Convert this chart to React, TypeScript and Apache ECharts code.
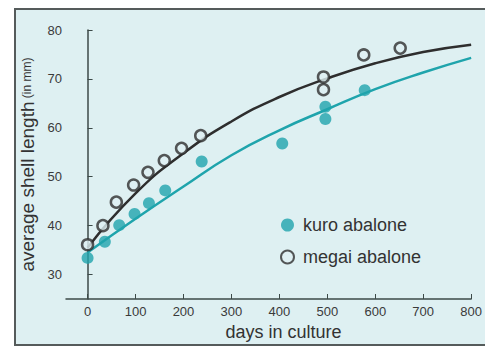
import React, { useEffect, useRef } from "react";
import * as echarts from "echarts";

const kuroDays = [0, 36, 66, 98, 128, 162, 238, 406, 496, 496, 578];
const kuroLength = [33.4, 36.7, 40.1, 42.4, 44.6, 47.2, 53.1, 56.8, 64.3, 61.8, 67.7];
const megaiDays = [0, 32, 60, 96, 126, 160, 196, 236, 492, 492, 576, 652];
const megaiLength = [36.1, 40.0, 44.8, 48.3, 50.9, 53.3, 55.8, 58.4, 70.4, 67.8, 74.9, 76.3];

const curveDays = [0, 100, 200, 300, 400, 500, 600, 700, 800];
const megaiCurve = [35.5, 46.6, 54.8, 61.3, 66.3, 70.1, 73.2, 75.5, 77.0];
const kuroCurve = [34.5, 41.4, 48.0, 54.4, 59.5, 63.8, 67.9, 71.3, 74.3];

const xTicks = [0, 100, 200, 300, 400, 500, 600, 700, 800];
const yTicks = [30, 40, 50, 60, 70, 80];

const FONT = "'Liberation Sans', Arial, sans-serif";
const TEAL = "#1fa4ac";
const DARK = "#2e2e2e";
const AXIS = "#3c4a48";
const BG = "#def0f2";

export default function App() {
  const ref = useRef<HTMLDivElement>(null);
  useEffect(() => {
    document.body.style.margin = "0";
    const chart = echarts.init(ref.current!, null, { renderer: "svg" });
    const zip = (xs: number[], ys: number[]) => xs.map((x, i) => [x, ys[i]]);
    chart.setOption({
      animation: false,
      backgroundColor: "#ffffff",
      textStyle: { fontFamily: FONT },
      graphic: [
        {
          type: "rect",
          left: 14,
          top: 8,
          z: -10,
          shape: { width: 480, height: 336 },
          style: { fill: BG, stroke: "#555b5b", lineWidth: 2 },
        },
      ],
      grid: { left: 66, right: 3, top: 30, bottom: 48, containLabel: false },
      legend: {
        data: [
          { name: "kuro abalone", icon: "circle" },
          { name: "megai abalone", icon: "circle" },
        ],
        orient: "vertical",
        left: 280,
        top: 216,
        padding: 0,
        itemWidth: 13,
        itemHeight: 13,
        itemGap: 14,
        textStyle: { fontFamily: FONT, fontSize: 18, color: "#333", padding: [0, 0, 0, 4] },
      },
      xAxis: {
        type: "value",
        min: -45,
        max: 800,
        name: "days in culture",
        nameLocation: "middle",
        nameGap: 23,
        nameTextStyle: { fontFamily: FONT, fontSize: 18, color: "#333", padding: [0, 0, 0, 30] },
        axisLine: { show: true, lineStyle: { color: AXIS, width: 1.5 } },
        axisTick: { show: true, inside: true, length: 5, customValues: xTicks, lineStyle: { color: AXIS } },
        axisLabel: { customValues: xTicks, margin: 6, fontFamily: FONT, fontSize: 13, color: "#3a3a3a" },
        splitLine: { show: false },
      },
      yAxis: {
        type: "value",
        min: 25,
        max: 80,
        name: "{a|average shell length} {b|(in mm)}",
        nameLocation: "middle",
        nameGap: 26,
        nameTextStyle: {
          color: "#333",
          rich: {
            a: { fontFamily: FONT, fontSize: 19, color: "#333" },
            b: { fontFamily: FONT, fontSize: 12, color: "#333" },
          },
        },
        axisLine: { show: true, lineStyle: { color: AXIS, width: 1.5 } },
        axisTick: { show: true, inside: true, length: 5, customValues: yTicks, lineStyle: { color: AXIS } },
        axisLabel: { customValues: yTicks, margin: 4, fontFamily: FONT, fontSize: 13, color: "#3a3a3a" },
        splitLine: { show: false },
      },
      series: [
        {
          name: "megai curve",
          type: "line",
          data: zip(curveDays, megaiCurve),
          smooth: true,
          showSymbol: false,
          silent: true,
          lineStyle: { color: DARK, width: 2.5 },
          z: 1,
        },
        {
          name: "kuro curve",
          type: "line",
          data: zip(curveDays, kuroCurve),
          smooth: true,
          showSymbol: false,
          silent: true,
          lineStyle: { color: TEAL, width: 2.5 },
          z: 1,
        },
        {
          name: "kuro abalone",
          type: "scatter",
          data: zip(kuroDays, kuroLength),
          symbol: "circle",
          symbolSize: 12,
          itemStyle: { color: TEAL },
          z: 3,
        },
        {
          name: "megai abalone",
          type: "scatter",
          data: zip(megaiDays, megaiLength),
          symbol: "circle",
          symbolSize: 11,
          itemStyle: { color: BG, borderColor: DARK, borderWidth: 2.5 },
          z: 4,
        },
      ],
    });
    return () => chart.dispose();
  }, []);
  return <div ref={ref} style={{ width: 485, height: 347 }} />;
}
